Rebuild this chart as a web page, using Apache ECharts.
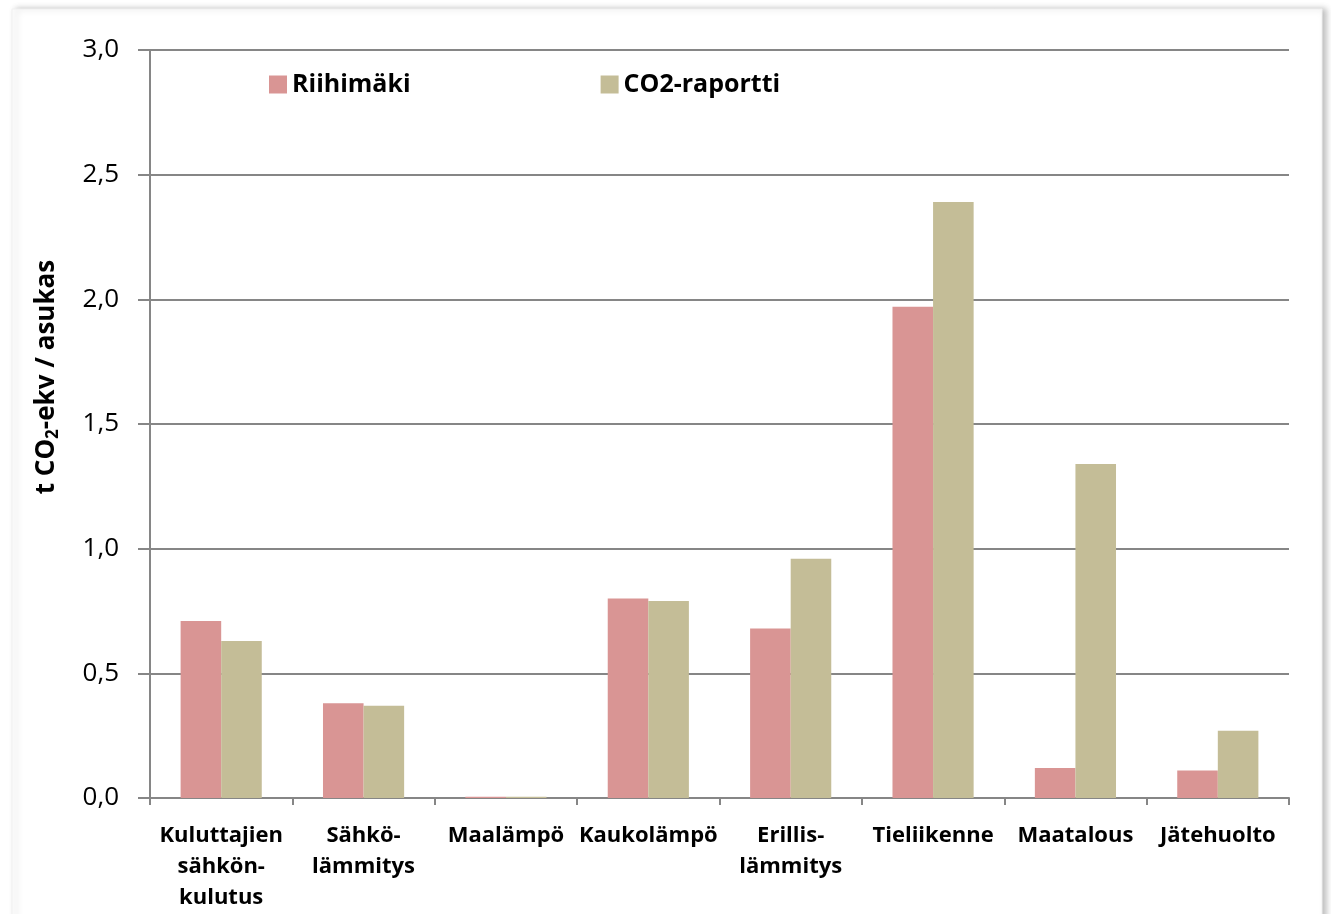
<!DOCTYPE html>
<html><head><meta charset="utf-8">
<script src="https://cdn.jsdelivr.net/npm/echarts@6/dist/echarts.min.js"></script>
<style>html,body{margin:0;padding:0;background:#fff}#c{width:1331px;height:914px}</style>
</head><body><div id="c"></div>
<script>
const categories = ['Kuluttajien\nsähkön-\nkulutus','Sähkö-\nlämmitys','Maalämpö','Kaukolämpö','Erillis-\nlämmitys','Tieliikenne','Maatalous','Jätehuolto'];
const riihimaki = [0.71, 0.38, 0.005, 0.80, 0.68, 1.97, 0.12, 0.11];
const co2raportti = [0.63, 0.37, 0.005, 0.79, 0.96, 2.39, 1.34, 0.27];
const seriesNames = ['Riihimäki', 'CO2-raportti'];
const yAxisTitle = '{a|t CO}{s|2}{a|-ekv / asukas}';

const chart = echarts.init(document.getElementById('c'));
const font = '"Open Sans", sans-serif';
chart.setOption({
  animation: false,
  backgroundColor: '#fff',
  textStyle: {fontFamily: font},
  graphic: [{
    type: 'rect', z: -10,
    shape: {x: 12, y: 9, width: 1310, height: 920},
    style: {fill: '#fff', stroke: '#f0f0f0', lineWidth: 1, shadowBlur: 6, shadowOffsetX: 4, shadowOffsetY: 0, shadowColor: 'rgba(0,0,0,0.25)'}
  }, {
    type: 'text', x: 47, y: 377, rotation: Math.PI / 2, z: 10,
    style: {
      text: yAxisTitle, align: 'center', verticalAlign: 'middle',
      rich: {
        a: {fontSize: 26, fontWeight: 'bold', fill: '#000', fontFamily: font},
        s: {fontSize: 17, fontWeight: 'bold', fill: '#000', fontFamily: font, padding: [13,0,0,0]}
      }
    }
  }],
  grid: {left: 150, right: 42, top: 50, bottom: 116},
  legend: {
    left: 264, top: 67, itemWidth: 18, itemHeight: 18, itemGap: 190,
    icon: 'rect',
    textStyle: {fontSize: 25, fontWeight: 'bold', color: '#000', fontFamily: font},
    data: seriesNames
  },
  xAxis: {
    type: 'category', data: categories,
    axisLine: {lineStyle: {color: '#868686', width: 2}},
    axisTick: {show: true, length: 7, lineStyle: {color: '#868686', width: 2}},
    axisLabel: {fontSize: 22, fontWeight: 'bold', color: '#000', lineHeight: 31, margin: 22, interval: 0, fontFamily: font}
  },
  yAxis: {
    type: 'value', min: 0, max: 3, interval: 0.5,
    axisLine: {show: true, lineStyle: {color: '#868686', width: 2}},
    axisTick: {show: true, length: 12, lineStyle: {color: '#868686', width: 2}},
    splitLine: {lineStyle: {color: '#868686', width: 2}},
    axisLabel: {fontSize: 26, color: '#000', margin: 31, fontFamily: font,
      formatter: v => v.toFixed(1).replace('.', ',')}
  },
  series: [
    {name: seriesNames[0], type: 'bar', data: riihimaki, itemStyle: {color: '#D99594'}, barGap: '0%', barCategoryGap: '43%'},
    {name: seriesNames[1], type: 'bar', data: co2raportti, itemStyle: {color: '#C4BD97'}, barGap: '0%', barCategoryGap: '43%'}
  ]
});
</script></body></html>
